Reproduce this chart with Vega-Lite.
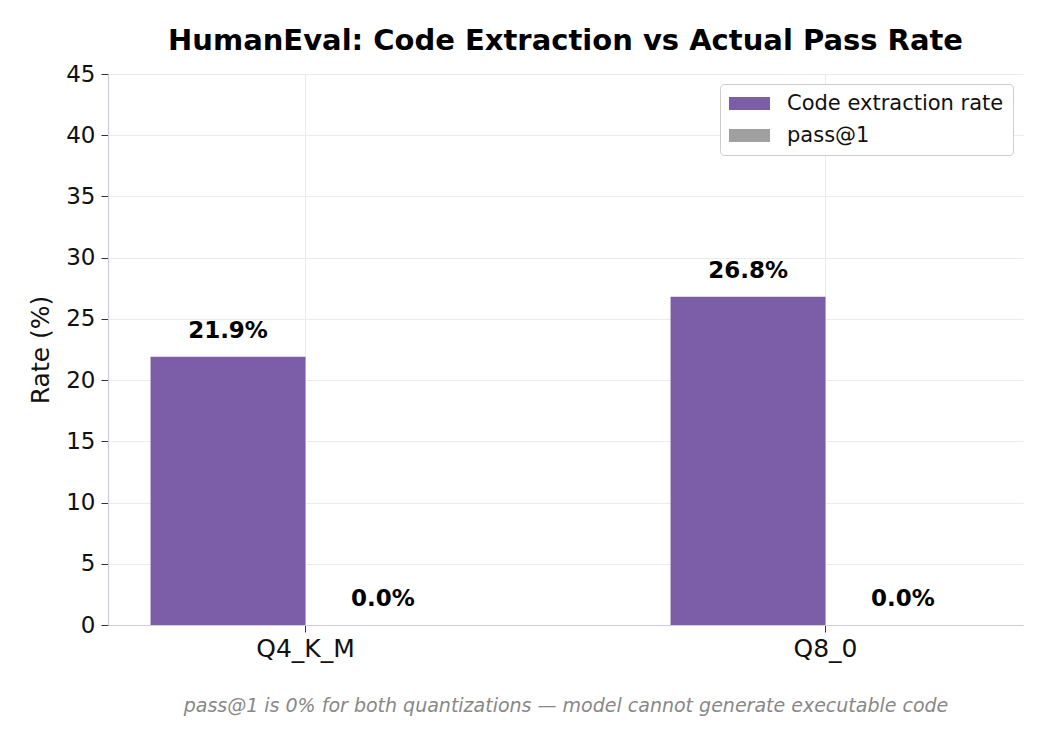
{
  "$schema": "https://vega.github.io/schema/vega-lite/v6.json",
  "width": 915,
  "height": 551,
  "autosize": {"type": "none"},
  "padding": {"left": 108, "top": 74, "right": 27, "bottom": 125},
  "background": "white",
  "config": {
    "font": "DejaVu Sans",
    "view": {"stroke": null},
    "axis": {
      "labelFont": "DejaVu Sans",
      "titleFont": "DejaVu Sans",
      "labelFontSize": 23,
      "labelColor": "#111111",
      "domainColor": "#ccccdd",
      "domainWidth": 1.2,
      "tickColor": "#333333",
      "tickSize": 7,
      "gridColor": "#ebebeb",
      "gridWidth": 1
    }
  },
  "title": {
    "text": "HumanEval: Code Extraction vs Actual Pass Rate",
    "font": "DejaVu Sans",
    "fontSize": 29,
    "fontWeight": "bold",
    "color": "#000000",
    "anchor": "middle",
    "offset": 7
  },
  "data": {
    "values": [
      {"quant": "Q4_K_M", "series": "Code extraction rate", "value": 21.9},
      {"quant": "Q4_K_M", "series": "pass@1", "value": 0.0},
      {"quant": "Q8_0", "series": "Code extraction rate", "value": 26.8},
      {"quant": "Q8_0", "series": "pass@1", "value": 0.0}
    ]
  },
  "transform": [
    {"calculate": "format(datum.value, '.1f') + '%'", "as": "label"}
  ],
  "encoding": {
    "x": {
      "field": "quant",
      "type": "nominal",
      "sort": ["Q4_K_M", "Q8_0"],
      "scale": {"paddingInner": 0.404, "paddingOuter": 0.0818},
      "axis": {
        "labelAngle": 0,
        "labelPadding": 4,
        "labelFontSize": 25,
        "bandPosition": 0.5,
        "grid": true,
        "title": "pass@1 is 0% for both quantizations — model cannot generate executable code",
        "titleFontSize": 19,
        "titleFontStyle": "italic",
        "titleFontWeight": "normal",
        "titleColor": "#888888",
        "titlePadding": 35
      }
    },
    "xOffset": {
      "field": "series",
      "type": "nominal",
      "sort": ["Code extraction rate", "pass@1"],
      "scale": {"paddingInner": 0, "paddingOuter": 0}
    },
    "y": {
      "field": "value",
      "type": "quantitative",
      "scale": {"domain": [0, 45], "nice": false},
      "axis": {
        "values": [0, 5, 10, 15, 20, 25, 30, 35, 40, 45],
        "title": "Rate (%)",
        "titleFontSize": 25,
        "titleFontWeight": "normal",
        "titleColor": "#111111",
        "titlePadding": 12,
        "labelPadding": 6,
        "grid": true
      }
    }
  },
  "layer": [
    {
      "mark": {"type": "bar"},
      "encoding": {
        "color": {
          "field": "series",
          "type": "nominal",
          "sort": ["Code extraction rate", "pass@1"],
          "scale": {"domain": ["Code extraction rate", "pass@1"], "range": ["#7b5ea7", "#a0a0a0"]},
          "legend": {
            "title": null,
            "orient": "top-right",
            "offset": 10,
            "labelFont": "DejaVu Sans",
            "labelFontSize": 21,
            "labelColor": "#111111",
            "labelLimit": 500,
            "symbolType": "M -2 -0.64 L 2 -0.64 L 2 0.64 L -2 0.64 Z",
            "symbolSize": 420,
            "symbolOffset": 10,
            "symbolStrokeWidth": 0,
            "rowPadding": 10,
            "labelOffset": 27,
            "padding": 9,
            "strokeColor": "#cccccc",
            "cornerRadius": 4,
            "fillColor": "white"
          }
        }
      }
    },
    {
      "mark": {
        "type": "text",
        "dy": -26,
        "baseline": "middle",
        "align": "center",
        "fontWeight": "bold",
        "fontSize": 23,
        "color": "#000000"
      },
      "encoding": {
        "text": {"field": "label", "type": "nominal"}
      }
    }
  ]
}
